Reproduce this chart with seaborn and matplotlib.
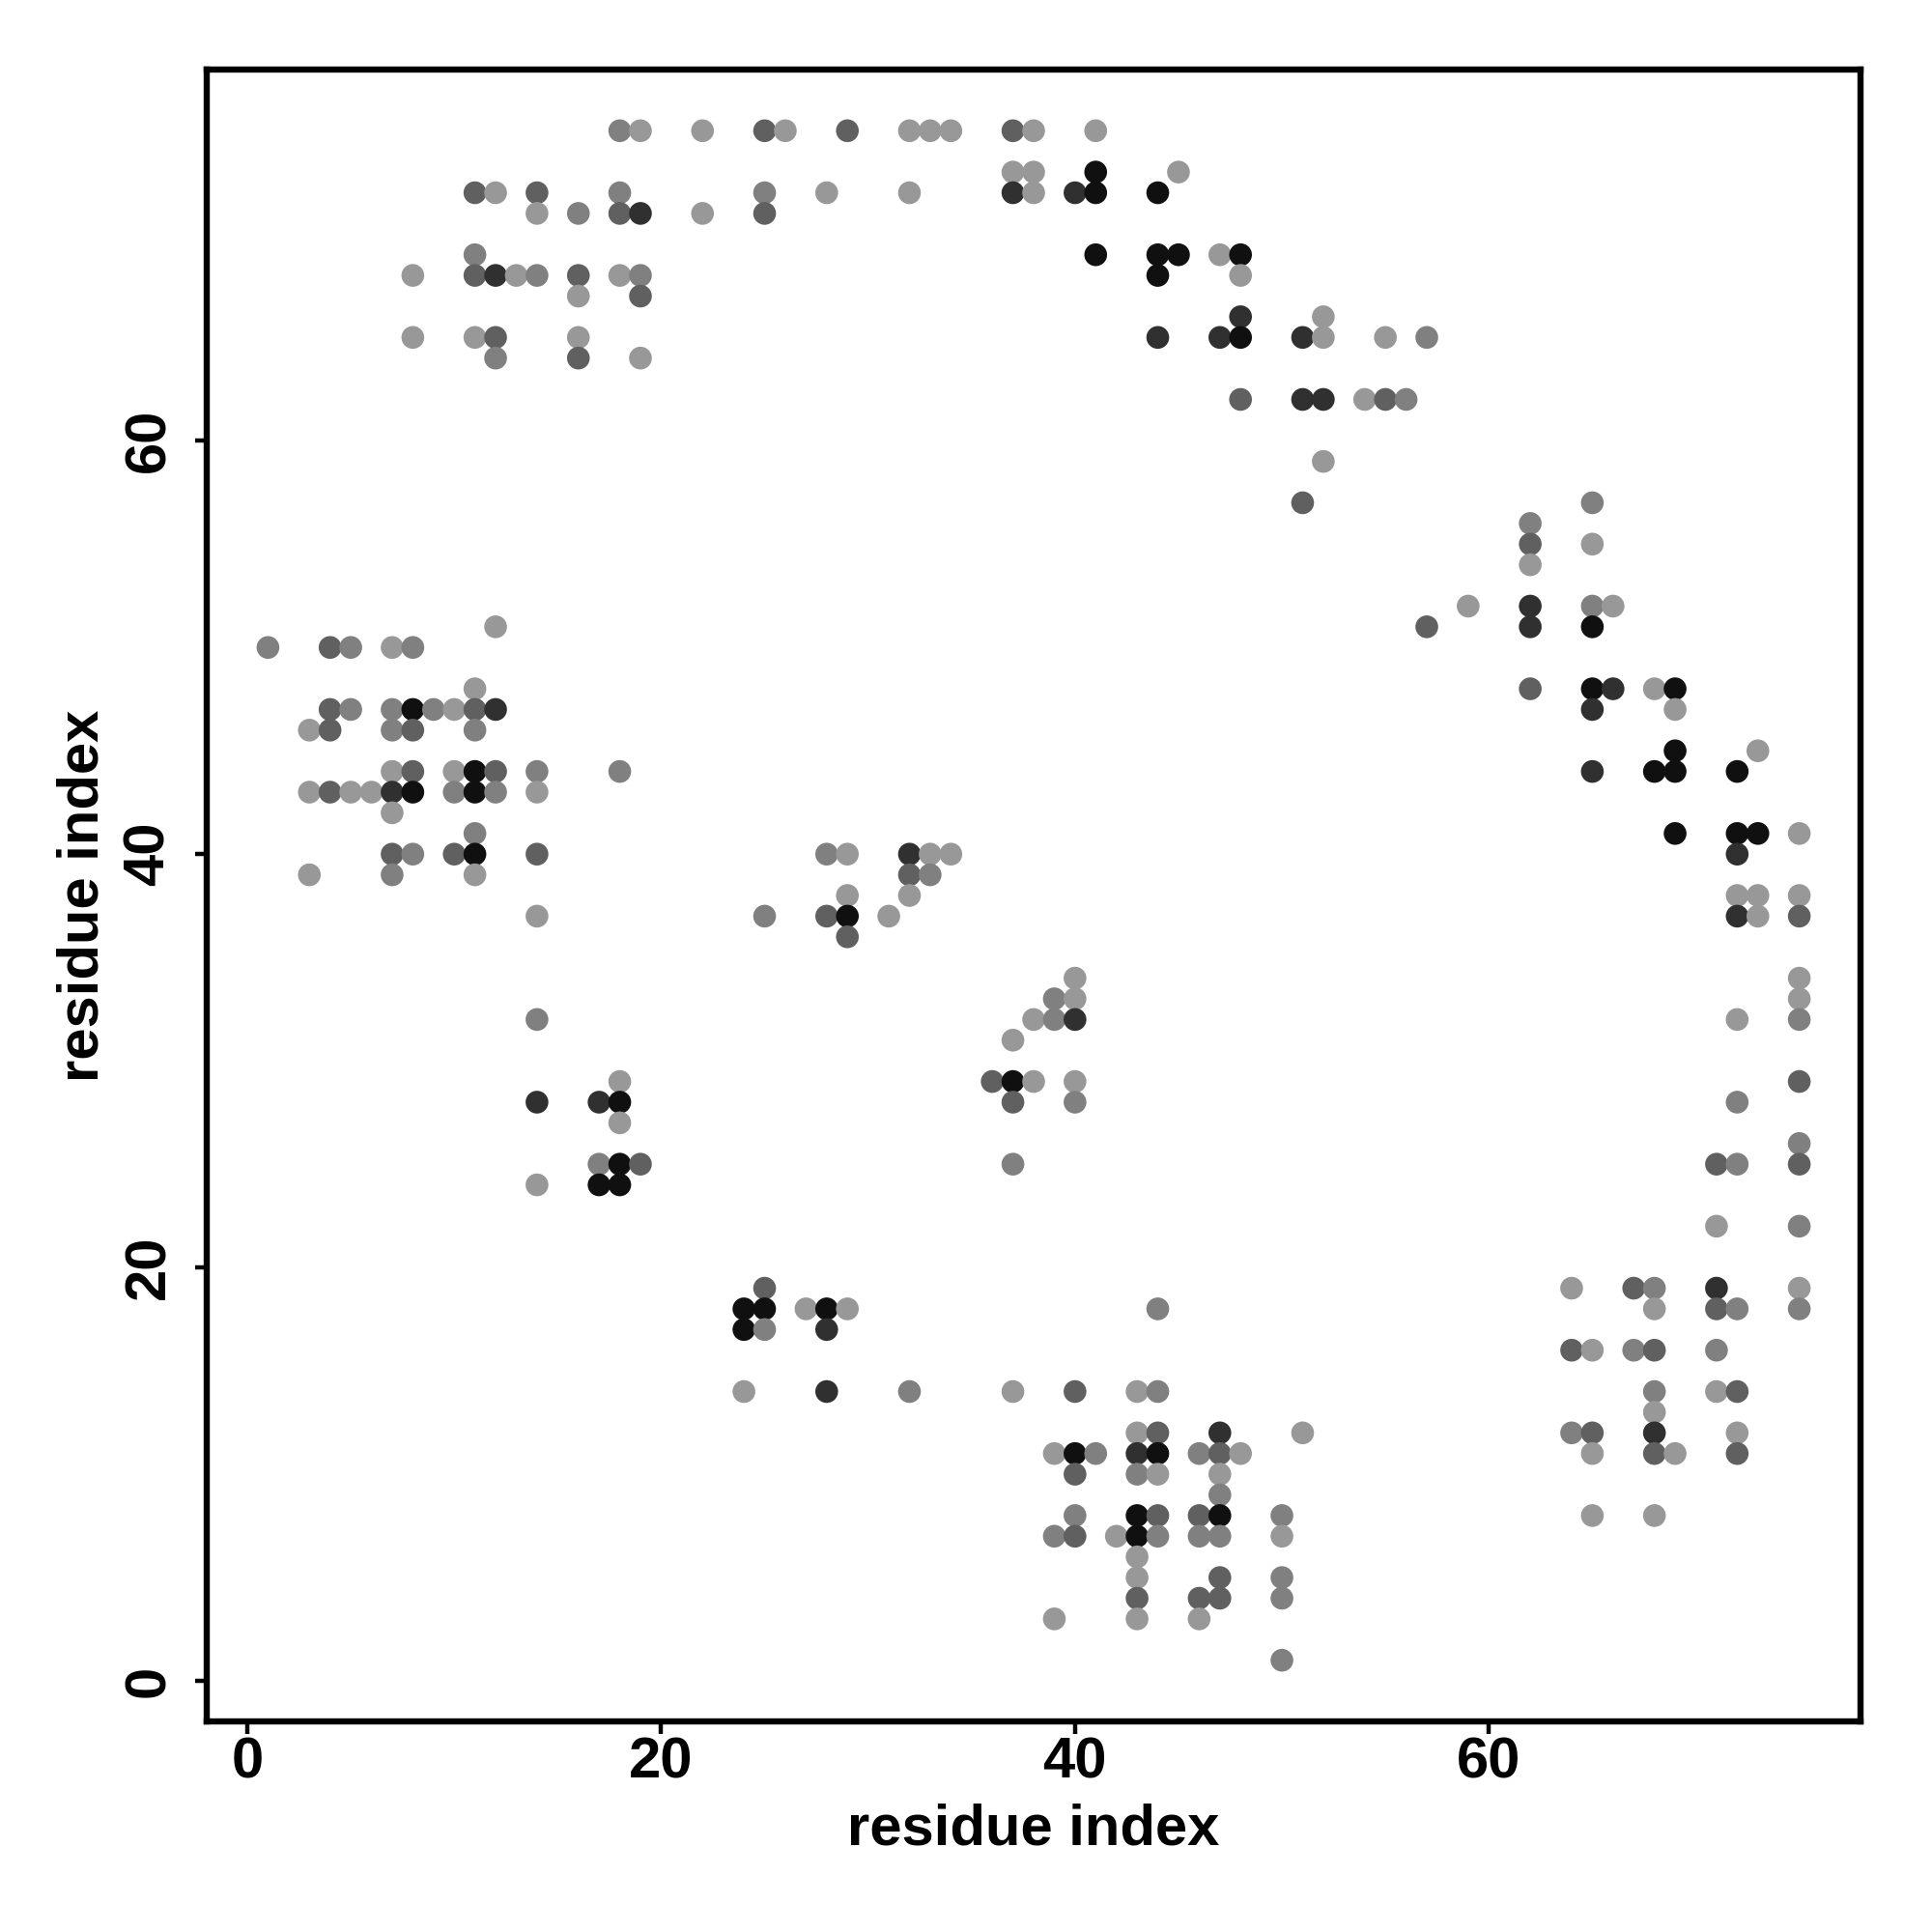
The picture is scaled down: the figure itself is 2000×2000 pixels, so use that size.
import matplotlib
matplotlib.use("Agg")
import matplotlib.pyplot as plt
from matplotlib.colors import LinearSegmentedColormap
import numpy as np
import pandas as pd
import seaborn as sns

# ---- data: contact map (residue i, residue j, contact strength level) ----
res_i = [
    18, 19, 22, 25, 26, 29, 32, 33, 34, 37, 38, 41,
    37, 38, 41, 45,
    11, 12, 14, 18, 25, 28, 32, 37, 38, 40, 41, 44,
    14, 16, 18, 19, 22, 25,
    11, 41, 44, 45, 47, 48,
    8, 11, 12, 13, 14, 16, 18, 19, 44, 48,
    16, 19,
    48, 52,
    8, 11, 12, 16, 44, 47, 48, 51, 52, 55, 57,
    12, 16, 19,
    48, 51, 52, 54, 55, 56,
    52,
    51, 65,
    62,
    62, 65,
    62,
    59, 62, 65, 66,
    12, 57, 62, 65,
    1, 4, 5, 7, 8,
    11, 62, 65, 66, 68, 69,
    4, 5, 7, 8, 9, 10, 11, 12, 65, 69,
    3, 4, 7, 8, 11,
    69, 73,
    7, 8, 10, 11, 12, 14, 18, 65, 68, 69, 72,
    3, 4, 5, 6, 7, 8, 10, 11, 12, 14,
    7,
    11, 69, 72, 73, 75,
    7, 8, 10, 11, 14, 28, 29, 32, 33, 34, 72,
    3, 7, 11, 32, 33,
    29, 32, 72, 73, 75,
    14, 25, 28, 29, 31, 72, 73, 75,
    29,
    40, 75,
    39, 40, 75,
    14, 38, 39, 40, 72, 75,
    37,
    18, 36, 37, 38, 40, 75,
    14, 17, 18, 37, 40, 72,
    18,
    75,
    17, 18, 19, 37, 71, 72, 75,
    14, 17, 18,
    71, 75,
    25, 64, 67, 68, 71, 75,
    24, 25, 27, 28, 29, 44, 68, 71, 72, 75,
    24, 25, 28,
    64, 65, 67, 68, 71,
    24, 28, 32, 37, 40, 43, 44, 68, 71, 72,
    68,
    43, 44, 47, 51, 64, 65, 68, 72,
    39, 40, 41, 43, 44, 46, 47, 48, 65, 68, 69, 72,
    40, 43, 44, 47,
    47,
    40, 43, 44, 46, 47, 50, 65, 68,
    39, 40, 42, 43, 44, 46, 47, 50,
    43,
    43, 47, 50,
    43, 46, 47, 50,
    39, 43, 46,
    50,
]

res_j = [
    75, 75, 75, 75, 75, 75, 75, 75, 75, 75, 75, 75,
    73, 73, 73, 73,
    72, 72, 72, 72, 72, 72, 72, 72, 72, 72, 72, 72,
    71, 71, 71, 71, 71, 71,
    69, 69, 69, 69, 69, 69,
    68, 68, 68, 68, 68, 68, 68, 68, 68, 68,
    67, 67,
    66, 66,
    65, 65, 65, 65, 65, 65, 65, 65, 65, 65, 65,
    64, 64, 64,
    62, 62, 62, 62, 62, 62,
    59,
    57, 57,
    56,
    55, 55,
    54,
    52, 52, 52, 52,
    51, 51, 51, 51,
    50, 50, 50, 50, 50,
    48, 48, 48, 48, 48, 48,
    47, 47, 47, 47, 47, 47, 47, 47, 47, 47,
    46, 46, 46, 46, 46,
    45, 45,
    44, 44, 44, 44, 44, 44, 44, 44, 44, 44, 44,
    43, 43, 43, 43, 43, 43, 43, 43, 43, 43,
    42,
    41, 41, 41, 41, 41,
    40, 40, 40, 40, 40, 40, 40, 40, 40, 40, 40,
    39, 39, 39, 39, 39,
    38, 38, 38, 38, 38,
    37, 37, 37, 37, 37, 37, 37, 37,
    36,
    34, 34,
    33, 33, 33,
    32, 32, 32, 32, 32, 32,
    31,
    29, 29, 29, 29, 29, 29,
    28, 28, 28, 28, 28, 28,
    27,
    26,
    25, 25, 25, 25, 25, 25, 25,
    24, 24, 24,
    22, 22,
    19, 19, 19, 19, 19, 19,
    18, 18, 18, 18, 18, 18, 18, 18, 18, 18,
    17, 17, 17,
    16, 16, 16, 16, 16,
    14, 14, 14, 14, 14, 14, 14, 14, 14, 14,
    13,
    12, 12, 12, 12, 12, 12, 12, 12,
    11, 11, 11, 11, 11, 11, 11, 11, 11, 11, 11, 11,
    10, 10, 10, 10,
    9,
    8, 8, 8, 8, 8, 8, 8, 8,
    7, 7, 7, 7, 7, 7, 7, 7,
    6,
    5, 5, 5,
    4, 4, 4, 4,
    3, 3, 3,
    1,
]

# strength level: L (weak) .. K (strongest)
res_level = [
    "M", "L", "L", "D", "L", "D", "L", "L", "L", "D", "L", "L",
    "L", "L", "K", "L",
    "D", "L", "D", "M", "M", "L", "L", "DD", "L", "DD", "K", "K",
    "L", "M", "D", "DD", "L", "D",
    "M", "K", "K", "K", "L", "K",
    "L", "D", "DD", "L", "M", "D", "L", "M", "K", "L",
    "L", "D",
    "DD", "L",
    "L", "L", "D", "L", "DD", "DD", "K", "DD", "L", "L", "M",
    "M", "D", "L",
    "D", "DD", "DD", "L", "D", "M",
    "L",
    "D", "M",
    "M",
    "D", "L",
    "L",
    "L", "DD", "M", "L",
    "L", "D", "DD", "K",
    "M", "D", "M", "L", "M",
    "L", "D", "K", "DD", "L", "K",
    "D", "M", "M", "K", "M", "L", "D", "DD", "DD", "L",
    "L", "D", "M", "D", "M",
    "K", "L",
    "L", "D", "L", "K", "D", "M", "M", "DD", "K", "K", "K",
    "L", "D", "L", "L", "DD", "K", "M", "K", "M", "L",
    "L",
    "M", "K", "K", "K", "L",
    "D", "M", "D", "K", "D", "M", "L", "DD", "L", "L", "DD",
    "L", "M", "L", "D", "M",
    "L", "L", "L", "L", "L",
    "L", "M", "D", "K", "L", "DD", "L", "D",
    "D",
    "L", "L",
    "M", "L", "L",
    "M", "L", "M", "DD", "L", "M",
    "L",
    "L", "D", "K", "L", "L", "D",
    "DD", "DD", "K", "D", "M", "M",
    "L",
    "M",
    "M", "K", "D", "M", "D", "M", "D",
    "L", "K", "K",
    "L", "M",
    "D", "L", "D", "M", "DD", "L",
    "K", "K", "L", "K", "L", "M", "L", "D", "M", "M",
    "K", "M", "DD",
    "D", "L", "M", "D", "M",
    "L", "DD", "M", "L", "D", "L", "M", "M", "L", "D",
    "L",
    "L", "D", "DD", "L", "M", "D", "DD", "L",
    "L", "K", "M", "DD", "K", "M", "D", "L", "L", "D", "L", "D",
    "D", "M", "L", "L",
    "M",
    "M", "K", "D", "D", "K", "M", "L", "L",
    "M", "D", "L", "K", "M", "M", "M", "L",
    "L",
    "L", "D", "M",
    "D", "D", "D", "M",
    "L", "L", "L",
    "M",
]

level_strength = {"L": 0.05, "M": 0.2, "D": 0.4, "DD": 0.7, "K": 0.9}
tick_values = [0, 20, 40, 60]
axis_label = "residue index"

assert len(res_i) == len(res_j) == len(res_level), (len(res_i), len(res_j), len(res_level))

df = pd.DataFrame({"i": res_i, "j": res_j,
                   "strength": [level_strength[v] for v in res_level]})

# ---- styling ----
sns.set_style("white")
plt.rcParams["font.family"] = ["Liberation Sans", "DejaVu Sans"]
plt.rcParams["font.weight"] = "bold"
plt.rcParams["text.color"] = "black"
plt.rcParams["axes.labelcolor"] = "black"
plt.rcParams["xtick.color"] = "black"
plt.rcParams["ytick.color"] = "black"

cmap = LinearSegmentedColormap.from_list("greyish", ["#a0a0a0", "#000000"])

fig = plt.figure(figsize=(10, 10), dpi=200)
ax = fig.add_axes([0.107, 0.109, 0.856, 0.855])

sns.scatterplot(data=df, x="i", y="j", hue="strength", palette=cmap,
                hue_norm=(0, 1), s=72, linewidth=0, legend=False, ax=ax)

ax.set_xlim(-1.96, 77.96)
ax.set_ylim(-1.96, 77.96)
ax.set_xticks(tick_values)
ax.set_yticks(tick_values)

for sp in ax.spines.values():
    sp.set_visible(True)
    sp.set_color("black")
    sp.set_linewidth(2.3)

ax.tick_params(axis="both", direction="out", length=4.5, width=1.6,
               labelsize=21.5, colors="black")
ax.tick_params(axis="x", bottom=True, pad=1)
ax.tick_params(axis="y", left=True, pad=7)
for lab in ax.get_xticklabels():
    lab.set_fontweight("bold")
for lab in ax.get_yticklabels():
    lab.set_fontweight("bold")
    lab.set_rotation(90)
    lab.set_va("center")

ax.set_xlabel(axis_label, fontsize=21.5, fontweight="bold", labelpad=5, color="black")
ax.set_ylabel(axis_label, fontsize=21.5, fontweight="bold", labelpad=5, color="black")

fig.savefig("out.png", dpi=200, facecolor="white")
